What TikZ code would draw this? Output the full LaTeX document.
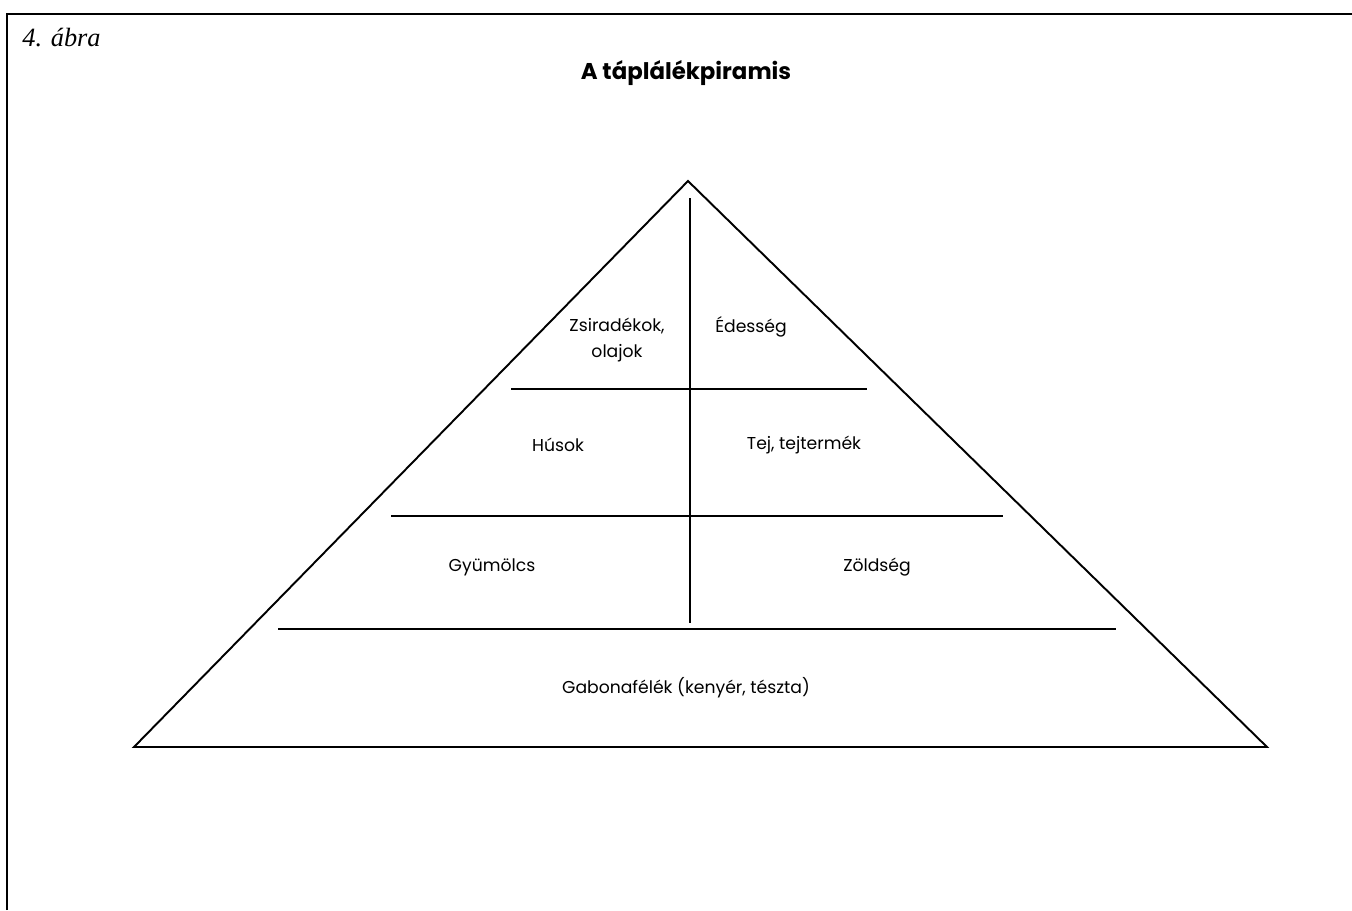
\documentclass[tikz,border=0pt]{standalone}
\usepackage{fontspec}
\setmainfont{Liberation Serif}
\newfontfamily\pirfont{Poppins}
\usetikzlibrary{positioning}

\tikzset{
  food/.style={font=\pirfont\fontsize{9.8}{15}\selectfont, align=center, inner sep=0pt},
  level/.style={line width=1.1pt},
}

\begin{document}
\begin{tikzpicture}[x=0.02cm, y=-0.02cm]
        \useasboundingbox (0,0) rectangle (1352,910);
        % frame
        \draw[line width=1.6pt] (7,910) -- (7,14) -- (1352,14);
        \node[anchor=base west, font=\itshape\fontsize{15}{17}\selectfont, inner sep=0pt] (abra) at (22,46) {4. ábra};
        \node[font=\pirfont\bfseries\fontsize{13}{15}\selectfont, inner sep=0pt] (title) at (686,73) {A táplálékpiramis};

        % pyramid
        \draw[level] (134,747) -- (688,181) -- (1267,747) -- cycle;
        \draw[level] (690,198) -- (690,623);
        \foreach \y/\xa/\xb in {389/511/867, 516/391/1003, 629/278/1116} {
            \draw[level] (\xa,\y) -- (\xb,\y);
        }

        \node[food] (fat) at (617,340) {Zsiradékok,\\olajok};
        \node[food] (sweet) at (751,327) {Édesség};
        \node[food] (meat) at (558,445) {Húsok};
        \node[food] (milk) at (804,445) {Tej, tejtermék};
        \node[food] (fruit) at (492,567) {Gyümölcs};
        \node[food] (veg) at (877,567) {Zöldség};
        \node[food] (grain) at (686,688) {Gabonafélék (kenyér, tészta)};
    \end{tikzpicture}
\end{document}
